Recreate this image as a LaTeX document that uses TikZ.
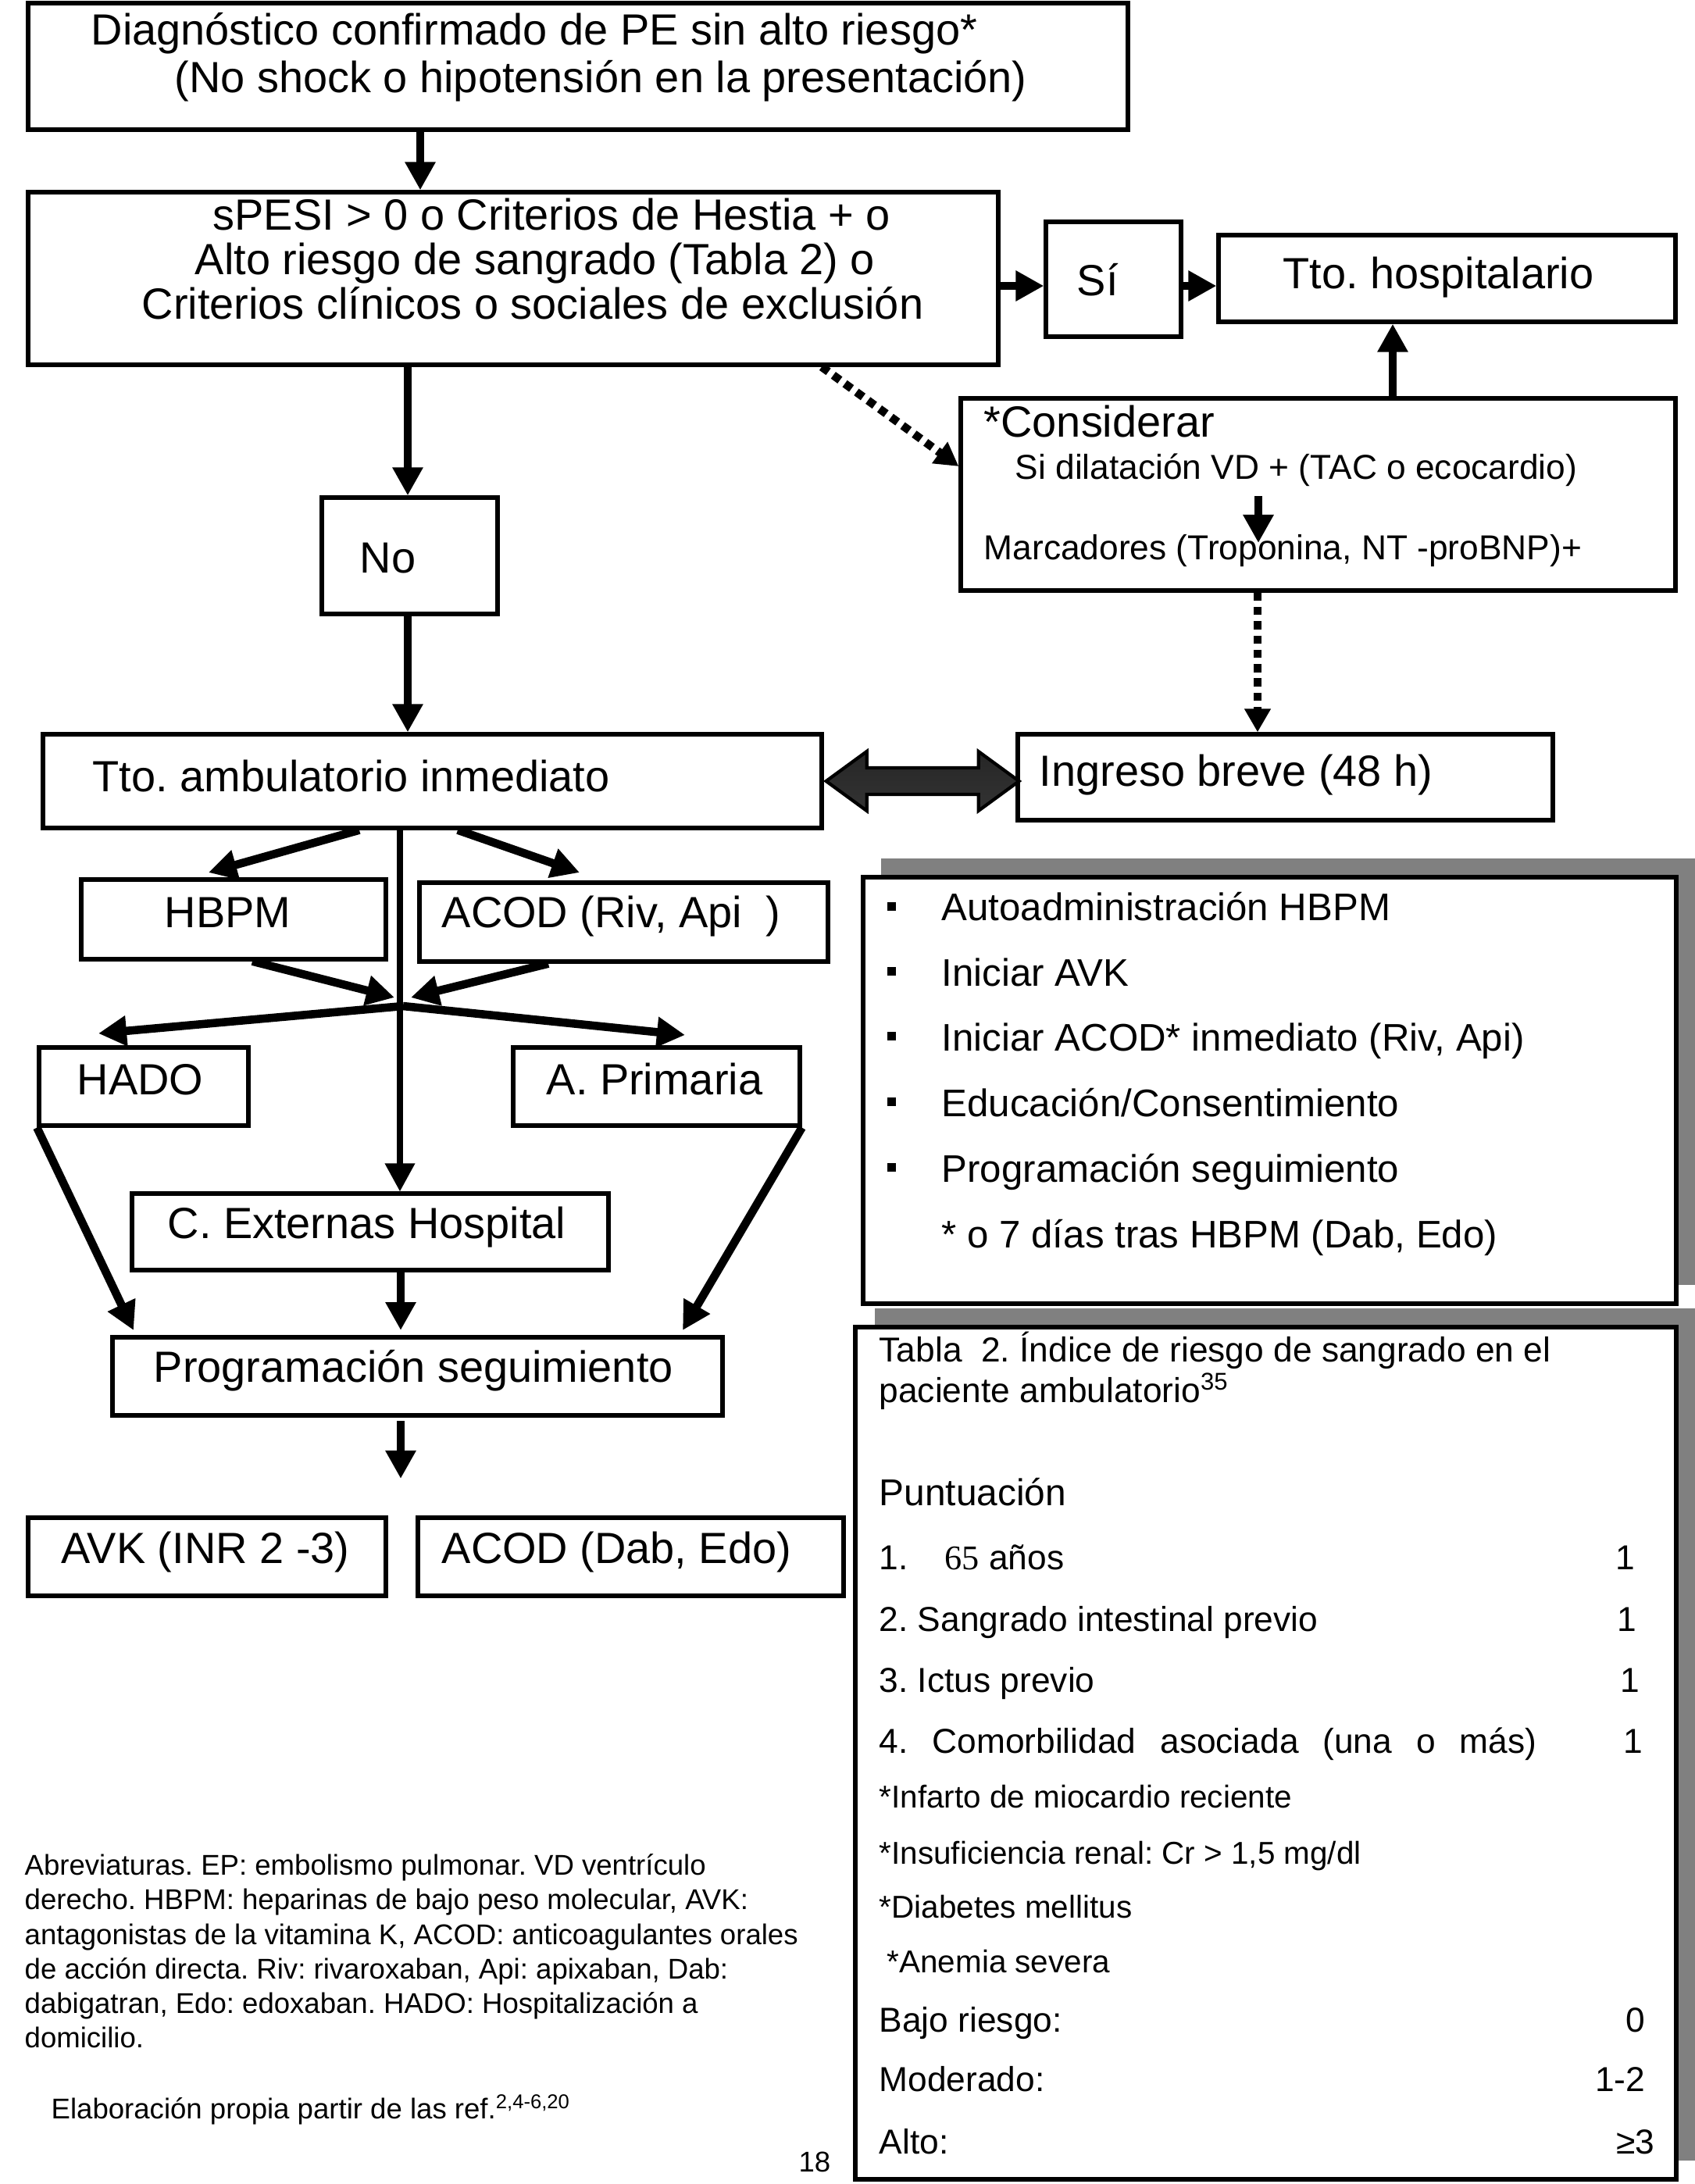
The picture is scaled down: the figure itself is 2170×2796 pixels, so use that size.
\documentclass[tikz,border=0pt]{standalone}
\usepackage{fontspec}
\setmainfont{Liberation Sans}
\newfontfamily\serifnum{Liberation Serif}
\usetikzlibrary{arrows.meta,fit,calc}
\definecolor{shadowgray}{RGB}{128,128,128}
\frenchspacing
\tikzset{
 box/.style={draw, line width=1.5pt, inner sep=0pt, fill=white},
 lab/.style={anchor=base west, inner sep=0pt},
 clab/.style={anchor=base, inner sep=0pt},
 rlab/.style={anchor=base east, inner sep=0pt},
 fbig/.style={font=\fontsize{15.9}{19}\selectfont},
 fmid/.style={font=\fontsize{12.6}{15}\selectfont},
 flist/.style={font=\fontsize{14}{17}\selectfont},
 ftab/.style={font=\fontsize{12.6}{15}\selectfont},
 ftabl/.style={font=\fontsize{13.6}{16}\selectfont},
 fsub/.style={font=\fontsize{11.5}{14}\selectfont},
 fnote/.style={font=\fontsize{10.4}{12.5}\selectfont},
 arr/.style={line width=3pt, -{Triangle[length=0.36cm,width=0.37cm]}},
 arrthin/.style={line width=2pt, -{Triangle[length=0.36cm,width=0.37cm]}},
 dotarr/.style={line width=3pt, dash pattern=on 3pt off 2.2pt, -{Triangle[length=0.3cm,width=0.32cm]}},
 dbl/.style={line width=1.2pt, line join=miter, top color=black!85, middle color=black!45, bottom color=black!80},
}
\begin{document}
\begin{tikzpicture}[x=0.01cm,y=-0.01cm]
\useasboundingbox (0,0) rectangle (2170,2796);
% shadows
\fill[shadowgray] (1128,1099) rectangle (2171,1645);
\fill[shadowgray] (1120,1675) rectangle (2171,2766);
% boxes
\node[box, fit={(36,4)(1444,166)}] (b1) {};
\node[box, fit={(36,246)(1278,467)}] (b2) {};
\node[box, fit={(1339,284)(1512,431)}] (si) {};
\node[box, fit={(1560,301)(2145,412)}] (hosp) {};
\node[box, fit={(1230,510)(2145,756)}] (cons) {};
\node[box, fit={(412,637)(637,786)}] (no) {};
\node[box, fit={(55,940)(1052,1060)}] (amb) {};
\node[box, fit={(1303,940)(1988,1050)}] (ingr) {};
\node[box, fit={(104,1126)(494,1228)}] (hbpm) {};
\node[box, fit={(537,1130)(1060,1231)}] (acodA) {};
\node[box, fit={(50,1341)(318,1441)}] (hado) {};
\node[box, fit={(657,1341)(1024,1441)}] (aprim) {};
\node[box, fit={(169,1528)(779,1626)}] (cext) {};
\node[box, fit={(144,1712)(925,1812)}] (prog) {};
\node[box, fit={(36,1943)(494,2043)}] (avk) {};
\node[box, fit={(535,1943)(1080,2043)}] (acodB) {};
\node[box, fit={(1105,1123)(2146,1669)}] (list) {};
\node[box, fit={(1095,1699)(2146,2790)}] (tabla) {};
% texts in flow boxes
\node[lab,fbig] (t1a) at (116,57) {Diagnóstico confirmado de PE sin alto riesgo*};
\node[lab,fbig] (t1b) at (223,118) {(No shock o hipotensión en la presentación)};
\node[clab,fbig] (t2a) at (706,294) {sPESI > 0 o Criterios de Hestia + o};
\node[clab,fbig] (t2b) at (685,351) {Alto riesgo de sangrado (Tabla 2) o};
\node[clab,fbig] (t2c) at (682,408) {Criterios clínicos o sociales de exclusión};
\node[lab,fbig] (tsi) at (1378,378) {Sí};
\node[lab,fbig] (thosp) at (1642,369) {Tto. hospitalario};
\node[lab,fbig] (tcons) at (1259,559) {*Considerar};
\node[lab,fmid] (tcons2) at (1299,613) {Si dilatación VD + (TAC o ecocardio)};
\node[lab,fmid] (tcons3) at (1259,716) {Marcadores (Troponina, NT -proBNP)+};
\node[lab,fbig] (tno) at (460,733) {No};
\node[lab,fbig] (tamb) at (118,1013) {Tto. ambulatorio inmediato};
\node[lab,fbig] (tingr) at (1330,1006) {Ingreso breve (48 h)};
\node[lab,fbig] (thbpm) at (210,1187) {HBPM};
\node[lab,fbig] (tacodA) at (565,1187) {ACOD (Riv, Api\ \ )};
\node[lab,fbig] (thado) at (98,1401) {HADO};
\node[lab,fbig] (taprim) at (699,1401) {A. Primaria};
\node[lab,fbig] (tcext) at (214,1585) {C. Externas Hospital};
\node[lab,fbig] (tprog) at (196,1769) {Programación seguimiento};
\node[lab,fbig] (tavk) at (78,2001) {AVK (INR 2 -3)};
\node[lab,fbig] (tacodB) at (565,2001) {ACOD (Dab, Edo)};
% list box
\foreach \yy in {1155,1238,1321,1405,1489} \fill (1136,\yy) rectangle (1147,\yy+11);
\node[lab,flist] (l1) at (1205,1178) {Autoadministración HBPM};
\node[lab,flist] (l2) at (1205,1262) {Iniciar AVK};
\node[lab,flist] (l3) at (1205,1345) {Iniciar ACOD* inmediato (Riv, Api)};
\node[lab,flist] (l4) at (1205,1429) {Educación/Consentimiento};
\node[lab,flist] (l5) at (1205,1513) {Programación seguimiento};
\node[lab,flist] (l6) at (1205,1597) {* o 7 días tras HBPM (Dab, Edo)};
% table
\node[lab,ftab] (r0a) at (1125,1743) {Tabla\ \ 2. Índice de riesgo de sangrado en el};
\node[lab,ftab] (r0b) at (1125,1795) {paciente ambulatorio\textsuperscript{35}};
\node[lab,ftabl] (r0c) at (1125,1927) {Puntuación};
\node[lab,ftab] (r1) at (1125,2009) {1.\hspace{0.47cm}{\serifnum 65} años};
\node[rlab,ftab] (r1v) at (2094,2009) {1};
\node[lab,ftab] (r2) at (1125,2088) {2. Sangrado intestinal previo};
\node[rlab,ftab] (r2v) at (2096,2088) {1};
\node[lab,ftab] (r3) at (1125,2166) {3. Ictus previo};
\node[rlab,ftab] (r3v) at (2100,2166) {1};
\node[lab,ftab] (r4) at (1125,2244) {\makebox[8.41cm][s]{4. Comorbilidad asociada (una o más)}};
\node[rlab,ftab] (r4v) at (2104,2244) {1};
\node[lab,fsub] (s1) at (1125,2314) {*Infarto de miocardio reciente};
\node[lab,fsub] (s2) at (1125,2386) {*Insuficiencia renal: Cr > 1,5 mg/dl};
\node[lab,fsub] (s3) at (1125,2455) {*Diabetes mellitus};
\node[lab,fsub] (s4) at (1135,2525) {*Anemia severa};
\node[lab,ftab] (k1) at (1125,2601) {Bajo riesgo:};
\node[rlab,ftab] (k1v) at (2107,2601) {0};
\node[lab,ftab] (k2) at (1125,2677) {Moderado:};
\node[rlab,ftab] (k2v) at (2107,2677) {1-2};
\node[lab,ftab] (k3) at (1125,2757) {Alto:};
\node[rlab,ftab] (k3v) at (2119,2757) {≥3};
% footnote
\node[lab,fnote] (n1) at (31,2400) {Abreviaturas. EP: embolismo pulmonar. VD ventrículo};
\node[lab,fnote] (n2) at (31,2444) {derecho. HBPM: heparinas de bajo peso molecular, AVK:};
\node[lab,fnote] (n3) at (31,2489) {antagonistas de la vitamina K, ACOD: anticoagulantes orales};
\node[lab,fnote] (n4) at (31,2533) {de acción directa. Riv: rivaroxaban, Api: apixaban, Dab:};
\node[lab,fnote] (n5) at (31,2577) {dabigatran, Edo: edoxaban. HADO: Hospitalización a};
\node[lab,fnote] (n6) at (31,2621) {domicilio.};
\node[lab,fnote] (n7) at (65,2712) {Elaboración propia partir de las ref.\textsuperscript{2,4-6,20}};
\node[rlab,fnote] (pg) at (1064,2780) {18};
% connectors
\draw[arr] (538,0 |- b1.south) -- (538,0 |- b2.north);
\draw[arr] (b2.east |- 0,366) -- (si.west |- 0,366);
\draw[arr] (si.east |- 0,366) -- (hosp.west |- 0,366);
\draw[arr] (1783,0 |- cons.north) -- (1783,0 |- hosp.south);
\draw[dotarr] (1052,0 |- b2.south) -- (cons.west |- 0,597);
\coordinate (cin1) at (1611,635);
\coordinate (cin2) at (1611,695);
\draw[arr] (cin1) -- (cin2);
\draw[dotarr] (1610,0 |- cons.south) -- (1610,0 |- ingr.north);
\draw[arr] (522,0 |- b2.south) -- (522,0 |- no.north);
\draw[arr] (522,0 |- no.south) -- (522,0 |- amb.north);
\shadedraw[dbl] ($(amb.east)+(3,0)$) -- ++(52,-38) -- ++(0,21) -- ++(143,0) -- ++(0,-21) -- ++(52,38) -- ++(-52,38) -- ++(0,-21) -- ++(-143,0) -- ++(0,21) -- cycle;
\coordinate (hbpmtip) at (267,1117);
\coordinate (acodtip) at (742,1117);
\draw[arr] (460,0 |- amb.south) -- (hbpmtip);
\draw[arr] (586,0 |- amb.south) -- (acodtip);
\draw[arrthin] (512,0 |- amb.south) -- (512,0 |- cext.north);
\coordinate (jA) at (505,1277);
\coordinate (jB) at (526,1277);
\coordinate (jc) at (516,1288);
\draw[arr] (323,0 |- hbpm.south) -- (jA);
\draw[arr] (702,0 |- acodA.south) -- (jB);
\coordinate (hadotip) at (126,1323);
\coordinate (aprimtip) at (877,1325);
\draw[arr] (jc) -- (hadotip);
\draw[arr] (jc) -- (aprimtip);
\coordinate (progL) at (171,1703);
\coordinate (progR) at (874,1703);
\draw[arr] (hado.south west) -- (progL);
\draw[arr] (aprim.south east) -- (progR);
\draw[arr] (513,0 |- cext.south) -- (513,1703);
\coordinate (pd1) at (513,1819);
\coordinate (pd2) at (513,1893);
\draw[arr] (pd1) -- (pd2);
\end{tikzpicture}
\end{document}
